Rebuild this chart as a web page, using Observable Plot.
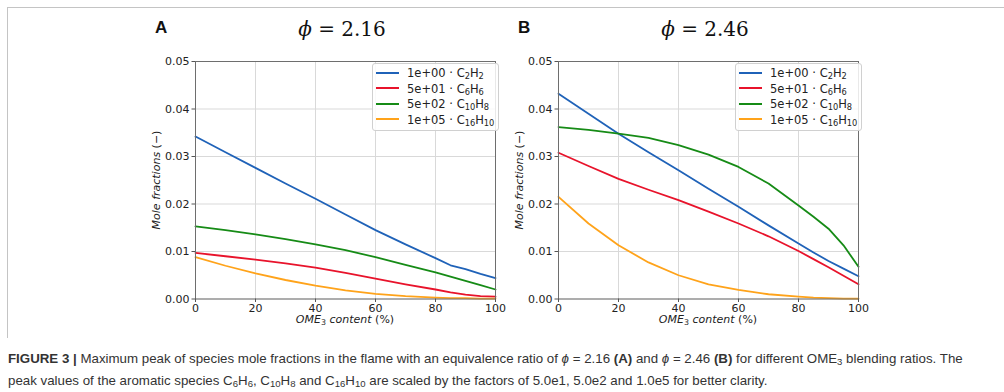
<!DOCTYPE html>
<html>
<head>
<meta charset="utf-8">
<script src="https://cdn.jsdelivr.net/npm/d3@7"></script>
<script src="https://cdn.jsdelivr.net/npm/@observablehq/plot@0.6"></script>
<style>
  html, body { margin: 0; padding: 0; background: #fff; }
  #root { position: relative; width: 1004px; height: 392px; overflow: hidden; font-family: "DejaVu Sans", sans-serif; }
  .abs { position: absolute; }
  .border { left: 7px; top: 7px; width: 1010px; height: 330px; border-left: 1.5px solid #c4c4c4; border-top: 1.5px solid #c4c4c4; }
  .panel-letter { font-family: "Liberation Sans", Arial, sans-serif; font-weight: bold; font-size: 17px; color: #111; line-height: 17px; }
  .phi { font-family: "DejaVu Serif", "Liberation Serif", serif; font-size: 20px; color: #111; white-space: nowrap; transform: translateX(-50%); line-height: 22px; }
  .phi i { font-style: italic; }
  .xlabel { font-size: 11px; color: #222; white-space: nowrap; transform: translateX(-50%); line-height: 12px; }
  .ylabel { font-size: 11px; color: #222; white-space: nowrap; transform: translate(-50%, -50%) rotate(-90deg); line-height: 12px; }
  .legend { background: rgba(255,255,255,0.85); border: 1px solid #d0d0d0; border-radius: 3px; font-size: 11.5px; color: #222; padding: 2px 4px 2px 3px; }
  .legend .row { height: 15.6px; line-height: 15.6px; white-space: nowrap; }
  .legend .sw { display: inline-block; width: 23px; height: 2px; vertical-align: middle; margin-right: 8px; position: relative; top: -1px; }
  sub { font-size: 72%; vertical-align: -0.25em; line-height: 0; }
  .caption { left: 8px; font-family: "Liberation Sans Narrow", "Liberation Sans", Arial, sans-serif; font-size: 13.3px; color: #333; white-space: nowrap; }
</style>
</head>
<body>
<div id="root"></div>
<script>
// ---- data ----
const xContent = [0, 10, 20, 30, 40, 50, 60, 70, 80, 85, 90, 95, 100];
const xTicks = [0, 20, 40, 60, 80, 100];
const yTicks = [0, 0.01, 0.02, 0.03, 0.04, 0.05];
const seriesNames = ["C2H2", "C6H6", "C10H8", "C16H10"];
const seriesColors = ["#1f62b8", "#e8132b", "#168b16", "#ffa31a"];
const legendScale = ["1e+00", "5e+01", "5e+02", "1e+05"];
const legendSpecies = ["C<sub>2</sub>H<sub>2</sub>", "C<sub>6</sub>H<sub>6</sub>", "C<sub>10</sub>H<sub>8</sub>", "C<sub>16</sub>H<sub>10</sub>"];

// Panel A (phi = 2.16)
const aC2H2   = [0.0342, 0.0309, 0.0276, 0.0243, 0.0211, 0.0178, 0.0145, 0.0115, 0.0086, 0.0071, 0.0063, 0.0053, 0.0044];
const aC6H6   = [0.0097, 0.0090, 0.0083, 0.0075, 0.0066, 0.0055, 0.0043, 0.0031, 0.0020, 0.0014, 0.0009, 0.0006, 0.0005];
const aC10H8  = [0.0153, 0.0145, 0.0136, 0.0126, 0.0115, 0.0103, 0.0088, 0.0072, 0.0056, 0.0047, 0.0038, 0.0029, 0.0020];
const aC16H10 = [0.0088, 0.0070, 0.0054, 0.0040, 0.0028, 0.0018, 0.0011, 0.0006, 0.0003, 0.0002, 0.0002, 0.0001, 0.0001];

// Panel B (phi = 2.46)
const bC2H2   = [0.0432, 0.0390, 0.0348, 0.0309, 0.0271, 0.0232, 0.0194, 0.0155, 0.0117, 0.0098, 0.0080, 0.0064, 0.0048];
const bC6H6   = [0.0308, 0.0280, 0.0253, 0.0230, 0.0208, 0.0184, 0.0159, 0.0132, 0.0101, 0.0084, 0.0067, 0.0049, 0.0031];
const bC10H8  = [0.0362, 0.0356, 0.0348, 0.0339, 0.0324, 0.0304, 0.0278, 0.0243, 0.0197, 0.0173, 0.0148, 0.0113, 0.0068];
const bC16H10 = [0.0215, 0.0159, 0.0113, 0.0077, 0.0050, 0.0031, 0.0019, 0.0010, 0.0005, 0.0003, 0.0002, 0.0001, 0.0001];

const panels = [
  { letter: "A", phi: "2.16", left: 145, series: [aC2H2, aC6H6, aC10H8, aC16H10], legendLeft: 372 },
  { letter: "B", phi: "2.46", left: 508, series: [bC2H2, bC6H6, bC10H8, bC16H10], legendLeft: 735 }
];

const root = document.getElementById("root");
function add(html, cls, style) {
  const d = document.createElement("div");
  d.className = "abs " + (cls || "");
  Object.assign(d.style, style || {});
  d.innerHTML = html;
  root.appendChild(d);
  return d;
}

add("", "border");

const W = 360, H = 290, ML = 50, MR = 10, MT = 16, MB = 36.5, TOP = 45;

for (const p of panels) {
  const rows = [];
  p.series.forEach((vals, si) => vals.forEach((v, i) => rows.push({ x: xContent[i], v, s: seriesNames[si] })));
  const chart = Plot.plot({
    width: W, height: H,
    marginLeft: ML, marginRight: MR, marginTop: MT, marginBottom: MB,
    style: { fontFamily: "DejaVu Sans, sans-serif", fontSize: "11px", color: "#222", background: "transparent", overflow: "visible" },
    x: { domain: [0, 100], label: null },
    y: { domain: [0, 0.05], label: null },
    color: { domain: seriesNames, range: seriesColors },
    marks: [
      Plot.gridX(xTicks, { stroke: "#d9d9d9", strokeOpacity: 1, strokeWidth: 1 }),
      Plot.gridY(yTicks, { stroke: "#d9d9d9", strokeOpacity: 1, strokeWidth: 1 }),
      Plot.line(rows, { x: "x", y: "v", z: "s", stroke: "s", strokeWidth: 1.8 }),
      Plot.frame({ stroke: "#6e6e6e", strokeWidth: 1 }),
      Plot.axisX({ ticks: xTicks, tickSize: 3.5, tickPadding: 1.5, label: null, tickFormat: d => String(d), stroke: "#555" }),
      Plot.axisY({ ticks: yTicks, tickSize: 3.5, tickPadding: 2.5, label: null, tickFormat: d => d.toFixed(2), stroke: "#555" })
    ]
  });
  const holder = add("", "", { left: p.left + "px", top: TOP + "px", width: W + "px", height: H + "px" });
  holder.appendChild(chart);

  const cx = p.left + ML + (W - ML - MR) / 2;
  add(p.letter, "panel-letter", { left: (p.left + 10) + "px", top: "19px" });
  add("<i>ϕ</i>&nbsp;=&nbsp;" + p.phi, "phi", { left: (cx - 3) + "px", top: "18px" });
  add("<i>OME</i><sub>3</sub> <i>content</i> (%)", "xlabel", { left: cx + "px", top: "314px" });
  add("<i>Mole fractions</i> (−)", "ylabel", { left: (p.left + 12) + "px", top: "180px" });

  const lg = add("", "legend", { left: p.legendLeft + "px", top: "63px" });
  lg.innerHTML = seriesNames.map((s, i) =>
    `<div class="row"><span class="sw" style="background:${seriesColors[i]}"></span>${legendScale[i]} · ${legendSpecies[i]}</div>`
  ).join("");
}

add("<b>FIGURE 3 |</b> Maximum peak of species mole fractions in the flame with an equivalence ratio of <i>ϕ</i> = 2.16 <b>(A)</b> and <i>ϕ</i> = 2.46 <b>(B)</b> for different OME<sub>3</sub> blending ratios. The",
  "caption", { top: "351px" });
add("peak values of the aromatic species C<sub>6</sub>H<sub>6</sub>, C<sub>10</sub>H<sub>8</sub> and C<sub>16</sub>H<sub>10</sub> are scaled by the factors of 5.0e1, 5.0e2 and 1.0e5 for better clarity.",
  "caption", { top: "373px" });
</script>
</body>
</html>
